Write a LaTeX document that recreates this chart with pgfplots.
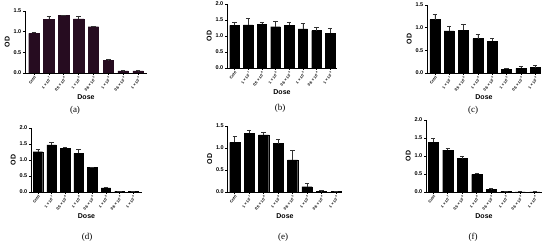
\documentclass[border=0pt]{standalone}
\usepackage{fontspec}
\setmainfont{Liberation Sans}
\newfontfamily\capfont{Liberation Serif}
\usepackage{pgfplots}
\pgfplotsset{compat=1.18}

\definecolor{barA}{RGB}{38,12,32}

\pgfplotsset{
  odpanel/.style={
    scale only axis,
    ybar, bar width=0.7, bar shift=0pt,
    axis x line*=bottom, axis y line*=left,
    axis line style={-, line width=0.7pt},
    tick align=outside,
    major tick length=2pt,
    tick style={line width=0.6pt, black},
    ymin=0, ytick distance=0.5,
    xtick={0,...,7},
    xticklabels={Cntrl, 1 × 10\textsuperscript{-7}, 0.5 × 10\textsuperscript{-6}, 1 × 10\textsuperscript{-6}, 0.5 × 10\textsuperscript{-5}, 1 × 10\textsuperscript{-5}, 0.5 × 10\textsuperscript{-4}, 1 × 10\textsuperscript{-4}},
    xticklabel style={rotate=52, anchor=north east, font=\fontsize{3.8}{4}\selectfont\bfseries, inner sep=0.6pt},
    yticklabel style={font=\fontsize{5.5}{6}\selectfont\bfseries, inner sep=1.5pt,
      /pgf/number format/fixed, /pgf/number format/fixed zerofill, /pgf/number format/precision=1},
    /pgf/number format/assume math mode=true,
    xlabel={Dose}, ylabel={OD},
    xlabel style={font=\fontsize{7}{8}\selectfont\bfseries, yshift=1pt},
    ylabel style={font=\fontsize{7}{8}\selectfont\bfseries, yshift=-1pt},
    error bars/y dir=plus, error bars/y explicit,
    error bars/error bar style={line width=0.6pt, black!80},
    error bars/error mark options={rotate=90, mark size=2.2pt, line width=0.6pt, black!80},
  },
  odbar/.style={fill=black, draw=black, line width=0.3pt},
}

\begin{document}
\begin{tikzpicture}
\useasboundingbox (0pt,0pt) rectangle (550pt,243pt);

% (a)
\begin{axis}[odpanel, at={(25pt,170pt)}, anchor=south west, width=122pt, height=62pt,
  xmin=-0.6, xmax=7.6, ymax=1.5]
\addplot[fill=barA, draw=barA, line width=0.3pt] coordinates {
  (0,0.96) +- (0,0.02) (1,1.30) +- (0,0.07) (2,1.39) +- (0,0.01) (3,1.31) +- (0,0.07)
  (4,1.12) +- (0,0.01) (5,0.31) +- (0,0.01) (6,0.05) +- (0,0.01) (7,0.05) +- (0,0.01) };
\end{axis}

% (b)
\begin{axis}[odpanel, at={(227pt,175pt)}, anchor=south west, width=110pt, height=64pt,
  xmin=-0.55, xmax=7.5, ymax=2.0]
\addplot[odbar] coordinates {
  (0,1.33) +- (0,0.10) (1,1.35) +- (0,0.19) (2,1.36) +- (0,0.08) (3,1.29) +- (0,0.18)
  (4,1.34) +- (0,0.10) (5,1.22) +- (0,0.18) (6,1.17) +- (0,0.09) (7,1.09) +- (0,0.16) };
\end{axis}

% (c)
\begin{axis}[odpanel, at={(427pt,170pt)}, anchor=south west, width=114pt, height=68pt,
  xmin=-0.55, xmax=7.4, ymax=1.5]
\addplot[odbar] coordinates {
  (0,1.18) +- (0,0.11) (1,0.93) +- (0,0.11) (2,0.94) +- (0,0.13) (3,0.76) +- (0,0.09)
  (4,0.70) +- (0,0.06) (5,0.08) +- (0,0.02) (6,0.10) +- (0,0.05) (7,0.12) +- (0,0.06) };
\end{axis}

% (d)
\begin{axis}[odpanel, at={(31pt,51pt)}, anchor=south west, width=111pt, height=64pt,
  xmin=-0.51, xmax=7.66, ymax=2.0]
\addplot[odbar] coordinates {
  (0,1.26) +- (0,0.06) (1,1.47) +- (0,0.07) (2,1.37) +- (0,0.04) (3,1.21) +- (0,0.12)
  (4,0.77) +- (0,0.01) (5,0.13) +- (0,0.02) (6,0.02) +- (0,0.005) (7,0.02) +- (0,0.005) };
\end{axis}

% (e)
\begin{axis}[odpanel, at={(227.5pt,51pt)}, anchor=south west, width=115pt, height=66pt,
  xmin=-0.5, xmax=7.45, ymax=1.5]
\addplot[odbar] coordinates {
  (0,1.13) +- (0,0.14) (1,1.33) +- (0,0.08) (2,1.30) +- (0,0.06) (3,1.10) +- (0,0.10)
  (4,0.73) +- (0,0.21) (5,0.12) +- (0,0.08) (6,0.02) +- (0,0.01) (7,0.015) +- (0,0.005) };
\end{axis}

% (f)
\begin{axis}[odpanel, at={(426pt,51pt)}, anchor=south west, width=116pt, height=72pt,
  xmin=-0.5, xmax=7.5, ymax=2.0]
\addplot[odbar] coordinates {
  (0,1.38) +- (0,0.11) (1,1.16) +- (0,0.06) (2,0.93) +- (0,0.07) (3,0.49) +- (0,0.04)
  (4,0.08) +- (0,0.01) (5,0.01) +- (0,0.003) (6,0.005) +- (0,0.002) (7,0.005) +- (0,0.002) };
\end{axis}

\begin{scope}[font=\capfont\fontsize{9}{10}\selectfont]
\node at (75pt,133pt) {(a)};
\node at (280pt,135pt) {(b)};
\node at (473pt,133pt) {(c)};
\node at (87pt,6pt) {(d)};
\node at (283pt,6pt) {(e)};
\node at (473pt,6pt) {(f)};
\end{scope}
\end{tikzpicture}
\end{document}
